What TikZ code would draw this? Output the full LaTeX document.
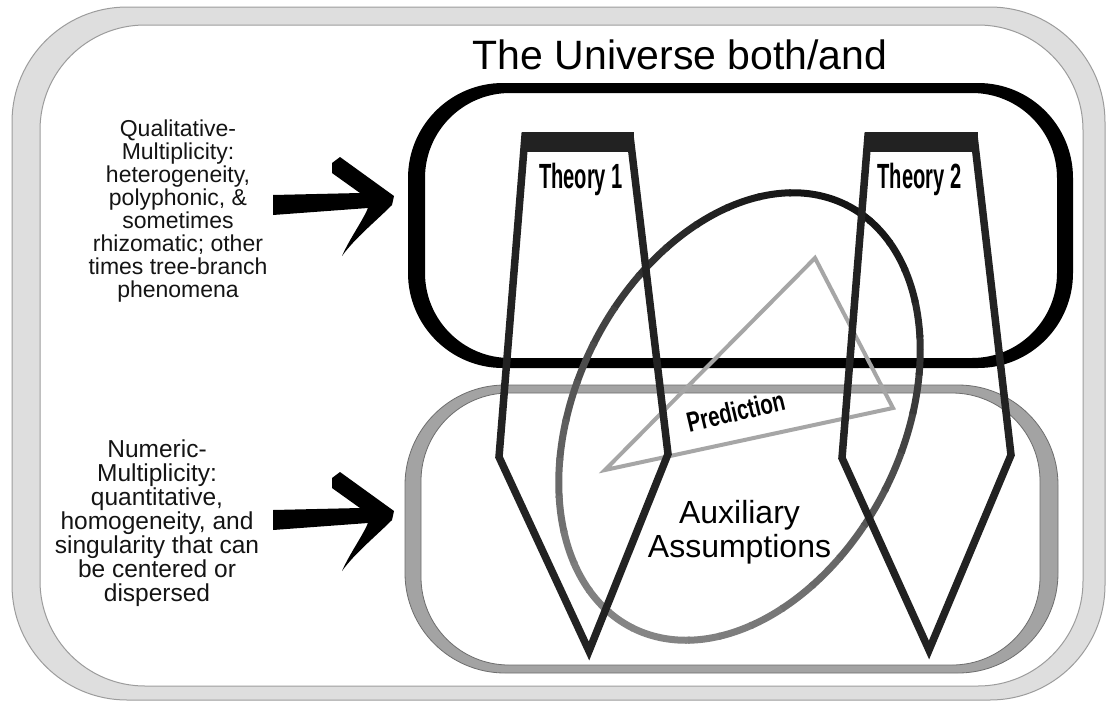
\documentclass[tikz,border=0pt]{standalone}
\usepackage{fontspec}
\setmainfont{Liberation Sans}
\usepackage{graphicx}
\definecolor{framegray}{HTML}{DEDEDE}
\definecolor{frameline}{HTML}{9C9C9C}
\definecolor{lowgray}{HTML}{A3A3A3}
\definecolor{lowline}{HTML}{6E6E6E}
\definecolor{theoryc}{HTML}{222222}
\definecolor{predc}{HTML}{A6A6A6}
\tikzset{
  theoryshape/.style={draw=theoryc, line width=7.5pt, line join=miter},
  theorybar/.style={fill=theoryc},
  theorylabel/.style={anchor=base, inner sep=0pt, font=\fontsize{35}{35}\selectfont\bfseries},
  sidetext/.style={align=center, inner sep=0pt, text=black!92},
  pics/brusharrow/.style={code={
    \fill[black] (0,10) -- (87,12) -- (59,32) -- (59,42) -- (67,48) -- (121,9) -- (119,0)
      .. controls (102,-17) and (82,-33) .. (69,-51)
      .. controls (77,-33) and (89,-17) .. (95,-3)
      -- (0,-10) -- cycle;
  }}
}
\begin{document}
\begin{tikzpicture}[x=1pt,y=1pt]
\useasboundingbox (0,0) rectangle (1106,-702);
% outer frame
\filldraw[fill=framegray, draw=frameline, line width=1pt, rounded corners=115pt] (12,-7) rectangle (1105,-700);
\filldraw[fill=white, draw=frameline, line width=1pt, rounded corners=105pt] (40,-25) rectangle (1083,-686);
% lower gray rounded band
\filldraw[fill=lowgray, draw=lowline, line width=0.8pt, even odd rule]
  [rounded corners=100pt] (405,-385) rectangle (1058,-673)
  [rounded corners=88pt] (421,-393) rectangle (1040,-665);
% upper black rounded band
\fill[black, even odd rule]
  [rounded corners=95pt] (408,-83) rectangle (1073,-368)
  [rounded corners=85pt] (425,-93) rectangle (1057,-358);
% prediction triangle
\draw[predc, line width=4pt, line join=miter] (815,-258) coordinate (ptop) -- (893,-408) coordinate (pright) -- (605,-470) coordinate (pleft) -- cycle;
% ellipse with gradient
\begin{scope}[shift={(739.5,-416.5)}, rotate=63]
\foreach \t in {0,10,...,350}{
  \pgfmathsetmacro\p{70+22*cos(\t)}
  \draw[black!\p, line width=7pt] ({237*cos(\t)},{163*sin(\t)}) arc[start angle=\t, end angle=\t+10.6, x radius=237, y radius=163];
}
\end{scope}
% theories
\draw[theoryshape] (525,-136) -- (630,-136) -- (668,-454) -- (589,-651) -- (499,-457) -- cycle;
\fill[theorybar] (521.5,-131.5) rectangle (634,-152);
\draw[theoryshape] (868,-136) -- (974,-136) -- (1011,-455) -- (929,-650) -- (842,-458) -- cycle;
\fill[theorybar] (864.5,-131.5) rectangle (978,-152);
\node[theorylabel] (t1) at (581,-188) {\scalebox{0.575}[1]{Theory 1}};
\node[theorylabel] (t2) at (919.5,-188) {\scalebox{0.575}[1]{Theory 2}};
% prediction label
\node[anchor=base, inner sep=0pt, rotate=13.3, font=\fontsize{28}{28}\selectfont\bfseries] (pred) at (738,-421) {\scalebox{0.73}[1]{Prediction}};
% auxiliary
\node[align=center, inner sep=0pt, font=\fontsize{32}{34}\selectfont] (aux) at (739.5,-532) {Auxiliary\\Assumptions};
% title
\node[anchor=base, inner sep=0pt, font=\fontsize{41}{49}\selectfont] (title) at (680,-69) {The Universe both/and};
% side texts
\node[sidetext, font=\fontsize{23}{23}\selectfont] (qual) at (178,-211) {Qualitative-\\Multiplicity:\\heterogeneity,\\polyphonic, \&\\sometimes\\rhizomatic; other\\times tree-branch\\phenomena};
\node[sidetext, font=\fontsize{24.5}{23.9}\selectfont] (num) at (157,-523) {Numeric-\\Multiplicity:\\quantitative,\\homogeneity, and\\singularity that can\\be centered or\\dispersed};
% brush arrows
\pic at (273,-205) {brusharrow};
\pic at (273,-520) {brusharrow};
\end{tikzpicture}
\end{document}
